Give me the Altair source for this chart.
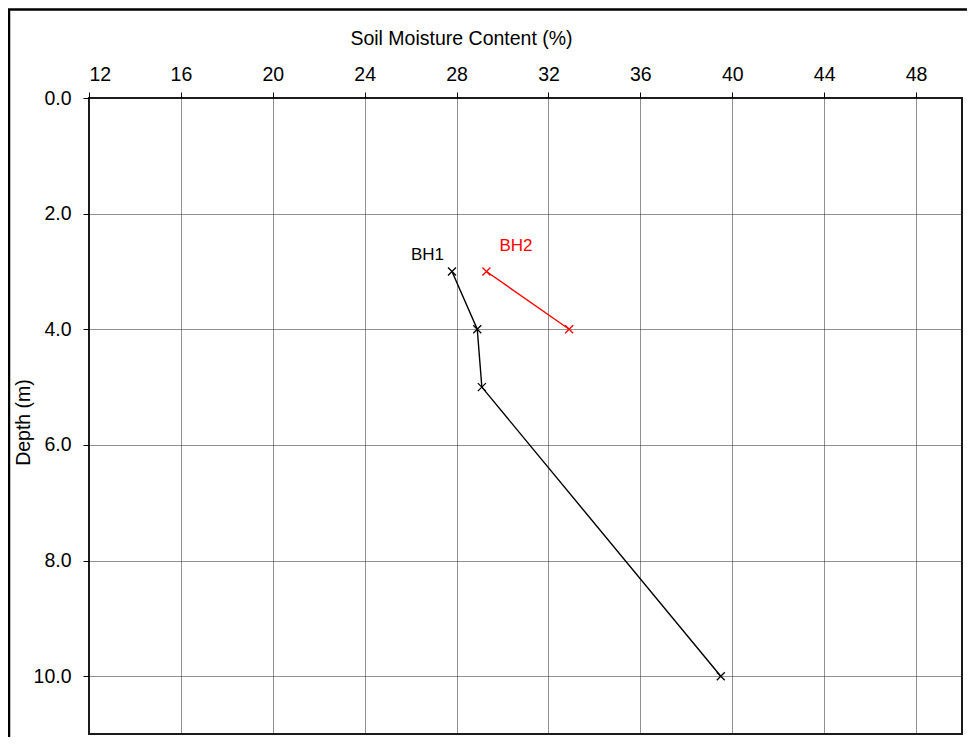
import altair as alt
import pandas as pd

# Data
bh1_moisture = [27.8, 28.9, 29.1, 39.5]
bh1_depth = [3.0, 4.0, 5.0, 10.0]
bh2_moisture = [29.3, 32.9]
bh2_depth = [3.0, 4.0]
series_names = ["BH1", "BH2"]
series_colors = ["#000000", "#ff0000"]
x_ticks = [12, 16, 20, 24, 28, 32, 36, 40, 44, 48]
y_ticks = [0, 2, 4, 6, 8, 10]

rows = []
for m, d in zip(bh1_moisture, bh1_depth):
    rows.append({"Borehole": "BH1", "Moisture": m, "Depth": d})
for m, d in zip(bh2_moisture, bh2_depth):
    rows.append({"Borehole": "BH2", "Moisture": m, "Depth": d})
df = pd.DataFrame(rows)
df["order"] = range(len(df))

FONT = "Liberation Sans"
W, H = 873, 636

xscale = alt.Scale(domain=[12, 50], nice=False, zero=False)
yscale = alt.Scale(domain=[0, 11], nice=False, zero=False, reverse=True)
cscale = alt.Scale(domain=series_names, range=series_colors)

x_enc = alt.X(
    "Moisture:Q",
    scale=xscale,
    axis=alt.Axis(
        orient="top",
        values=x_ticks,
        title="Soil Moisture Content (%)",
        titleX=372,
        titleY=-53.5,
        titleAlign="center",
        titleBaseline="alphabetic",
        labelBaseline="alphabetic",
        labelPadding=12,
        grid=True,
    ),
)
y_enc = alt.Y(
    "Depth:Q",
    scale=yscale,
    axis=alt.Axis(
        values=y_ticks,
        format=".1f",
        title="Depth (m)",
        titleX=-59.5,
        titleY=324,
        titleAlign="center",
        titleBaseline="alphabetic",
        titleAngle=-90,
        labelPadding=12,
        grid=True,
    ),
)

base = alt.Chart(df)

lines = base.mark_line(strokeWidth=1.4).encode(
    x=x_enc,
    y=y_enc,
    color=alt.Color("Borehole:N", scale=cscale, legend=None),
    order="order:Q",
)

points = base.mark_point(
    shape="M-1,-1L1,1M-1,1L1,-1", filled=False, size=64, strokeWidth=1.3, opacity=1
).encode(
    x="Moisture:Q",
    y="Depth:Q",
    color=alt.Color("Borehole:N", scale=cscale, legend=None),
)

lab1 = alt.Chart(df[df["Borehole"] == "BH1"].head(1)).mark_text(
    align="right", baseline="alphabetic", dx=-8, dy=-11, fontSize=17, font=FONT
).encode(
    x="Moisture:Q", y="Depth:Q", text="Borehole:N",
    color=alt.Color("Borehole:N", scale=cscale, legend=None),
)
lab2 = alt.Chart(df[df["Borehole"] == "BH2"].head(1)).mark_text(
    align="left", baseline="alphabetic", dx=13, dy=-20, fontSize=17, font=FONT
).encode(
    x="Moisture:Q", y="Depth:Q", text="Borehole:N",
    color=alt.Color("Borehole:N", scale=cscale, legend=None),
)

frame_df = pd.DataFrame({"k": [0]})
frame_left = alt.Chart(frame_df).mark_rule(color="black", strokeWidth=2.5).encode(
    x=alt.value(-80), y=alt.value(-89), y2=alt.value(H + 3)
)
frame_top = alt.Chart(frame_df).mark_rule(color="black", strokeWidth=2.5).encode(
    x=alt.value(-81), x2=alt.value(W + 5), y=alt.value(-88.5)
)

chart = (
    alt.layer(lines, points, lab1, lab2, frame_left, frame_top)
    .properties(
        width=W,
        height=H,
        autosize="none",
        padding={"left": 81, "top": 90, "right": 5, "bottom": 3},
        background="white",
    )
    .configure_view(stroke="#1a1a1a", strokeWidth=2)
    .configure_axis(
        labelFont=FONT,
        titleFont=FONT,
        labelFontSize=19.5,
        titleFontSize=19.5,
        labelColor="black",
        titleColor="black",
        titleFontWeight="normal",
        domain=False,
        ticks=True,
        tickSize=6,
        tickColor="black",
        tickWidth=1,
        gridColor="#222222",
        gridDash=[1, 1],
        gridWidth=1,
        gridOpacity=1,
    )
)

chart.save("out.html", embed_options={"renderer": "svg", "actions": False})
